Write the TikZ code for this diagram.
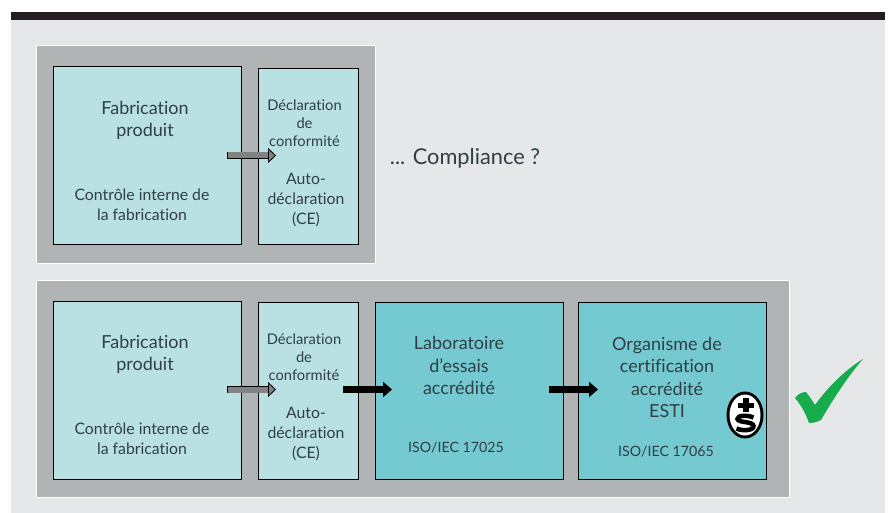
\documentclass[tikz,border=0pt]{standalone}
\usepackage{fontspec}
\setmainfont{Lato}[Ligatures={NoCommon}]
\usetikzlibrary{arrows.meta,shapes.geometric}
\definecolor{pagegrey}{HTML}{E5E7E9}
\definecolor{bargrey}{HTML}{231F20}
\definecolor{panelgrey}{HTML}{B1B4B5}
\definecolor{lightcyan}{HTML}{B9E1E3}
\definecolor{darkcyan}{HTML}{75C9D0}
\definecolor{inkgrey}{HTML}{2F3F45}
\definecolor{arrowgrey}{HTML}{808284}
\definecolor{checkgreen}{HTML}{16AB4B}
\tikzset{
	panel/.style={draw=white, line width=0.6pt, fill=panelgrey, anchor=north west, inner sep=0pt},
	procbox/.style={draw=black, line width=0.8pt, anchor=north west, inner sep=0pt},
	txt/.style={text=inkgrey, align=center, inner sep=0pt},
	bigtxt/.style={txt, font=\fontsize{18}{22.5}\selectfont},
	midtxt/.style={txt, font=\fontsize{15.8}{20}\selectfont},
	smalltxt/.style={txt, font=\fontsize{14.7}{18}\selectfont},
	isotxt/.style={txt, font=\fontsize{14.2}{18}\selectfont},
	greyarrow/.style={draw=black, line width=0.8pt, -{Triangle[length=8pt,width=15pt,fill=arrowgrey]},
		preaction={draw=black, -, line width=7.6pt, shorten >=7pt},
		postaction={draw=arrowgrey, -, line width=6pt, shorten >=8.5pt, shorten <=.8pt}},
	blackarrow/.style={draw=black, line width=7pt, -{Triangle[length=9pt,width=15pt]}}
}
\begin{document}
\begin{tikzpicture}[x=1pt,y=-1pt]
	\useasboundingbox (0,0) rectangle (890,513);
	% Page background and top bar
	\fill[pagegrey] (11,12) rectangle (885,513);
	\fill[bargrey] (11,12) rectangle (885,20);

	% Top panel
	\node[panel, minimum width=339pt, minimum height=217pt] (panel1) at (35.5,45.5) {};
	\node[procbox, fill=lightcyan, minimum width=188pt, minimum height=178pt] (fab1) at (53,66) {};
	\node[procbox, fill=lightcyan, minimum width=100pt, minimum height=176pt] (decl1) at (258,68) {};

	\node[bigtxt] (fabtxt1) at (145,120.5) {Fabrication\\produit};
	\node[midtxt] (ctrl1) at (142,205) {Contrôle interne de\\la fabrication};
	\node[smalltxt] (decltxt1) at (304.5,123.5) {Déclaration\\de\\conformité};
	\node[midtxt] (auto1) at (306,200) {Auto-\\déclaration\\(CE)};
	\node[txt, font=\fontsize{21.8}{24}\selectfont] (compliance) at (465,158) {... Compliance ?};

	% Bottom panel
	\node[panel, minimum width=753pt, minimum height=217pt] (panel2) at (35.5,279.5) {};
	\node[procbox, fill=lightcyan, minimum width=188pt, minimum height=178pt] (fab2) at (53,300.5) {};
	\node[procbox, fill=lightcyan, minimum width=100pt, minimum height=177pt] (decl2) at (258,301.5) {};
	\node[procbox, fill=darkcyan, minimum width=188pt, minimum height=177pt] (lab) at (375,301.5) {};
	\node[procbox, fill=darkcyan, minimum width=188pt, minimum height=177pt] (org) at (578,301.5) {};

	\node[bigtxt] (fabtxt2) at (145,354.5) {Fabrication\\produit};
	\node[midtxt] (ctrl2) at (142,439) {Contrôle interne de\\la fabrication};
	\node[smalltxt] (decltxt2) at (304,357.5) {Déclaration\\de\\conformité};
	\node[midtxt] (auto2) at (306,434) {Auto-\\déclaration\\(CE)};
	\node[bigtxt] (labtxt) at (459,365.5) {Laboratoire\\d'essais\\accrédité};
	\node[isotxt] (iso1) at (456,447.5) {ISO/IEC 17025};
	\node[bigtxt] (orgtxt) at (667,377.5) {Organisme de\\certification\\accrédité\\ESTI};
	\node[isotxt] (iso2) at (666,452) {ISO/IEC 17065};

	% Arrow ends
	\coordinate (g1a) at (227,155.5);
	\coordinate (g1b) at (276,155.5);
	\coordinate (g2a) at (227,389.5);
	\coordinate (g2b) at (276,389.5);
	\coordinate (k1a) at (343,389.5);
	\coordinate (k1b) at (392,389.5);
	\coordinate (k2a) at (549,389.5);
	\coordinate (k2b) at (598,389.5);

	% Connecting arrows
	\draw[greyarrow] (g1a) -- (g1b);
	\draw[greyarrow] (g2a) -- (g2b);
	\draw[blackarrow] (k1a) -- (k1b);
	\draw[blackarrow] (k2a) -- (k2b);

	% Safety sign
	\node[ellipse, fill=black, draw=none, minimum width=37pt, minimum height=47pt, inner sep=0pt] (signout) at (745,415) {};
	\node[ellipse, fill=white, draw=none, minimum width=31pt, minimum height=41pt, inner sep=0pt] (signin) at (745,415) {};
	\fill[black] (743,398) rectangle (748.5,412);
	\fill[black] (738,402.5) rectangle (753.5,407.5);
	\draw[black, line width=4.5pt] (753.5,417.5) .. controls (748,415) and (737,415) .. (737.5,419)
		.. controls (738,423) and (753,421) .. (753.5,426)
		.. controls (754,431) and (741,431) .. (736.5,428.5);

	% Check mark
	\fill[checkgreen] (795,398) .. controls (798,394) and (802,392) .. (806,392)
		.. controls (809,396) and (812,400) .. (815,405)
		.. controls (827,388) and (845,370) .. (863,359)
		.. controls (848,376) and (832,401) .. (821,420)
		.. controls (817,422) and (813,423) .. (809,423)
		.. controls (806,414) and (801,405) .. (795,398) -- cycle;
\end{tikzpicture}
\end{document}
